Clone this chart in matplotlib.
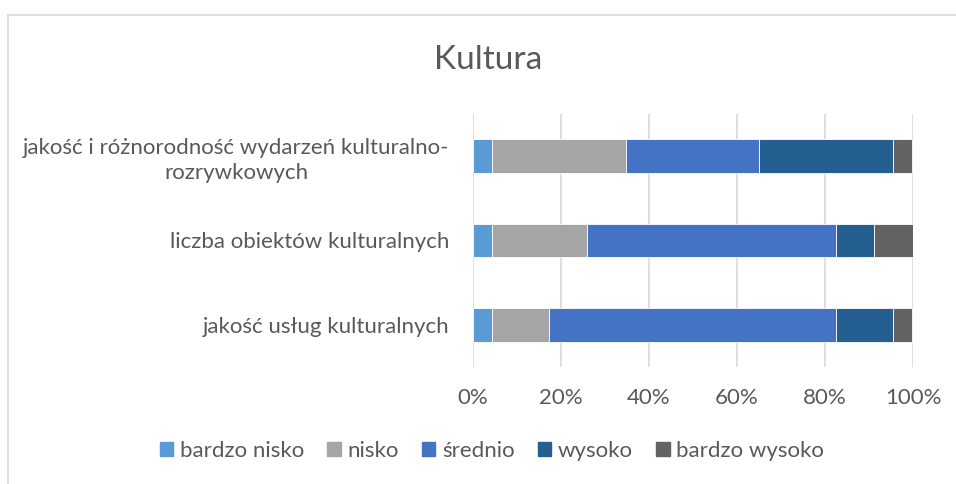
import numpy as np
import matplotlib
matplotlib.use("Agg")
import matplotlib.pyplot as plt
from matplotlib.lines import Line2D

# Data (percent of answers)
categories = ["jakość usług kulturalnych",
              "liczba obiektów kulturalnych",
              "jakość i różnorodność wydarzeń kulturalno-\nrozrywkowych"]
series_names = ["bardzo nisko", "nisko", "średnio", "wysoko", "bardzo wysoko"]
bardzo_nisko = [4.3, 4.3, 4.3]
nisko = [13.0, 21.7, 30.4]
srednio = [65.2, 56.5, 30.4]
wysoko = [13.0, 8.7, 30.4]
bardzo_wysoko = [4.3, 8.7, 4.3]
colors = ["#5B9BD5", "#A5A5A5", "#4472C4", "#255E91", "#636363"]
ticks = [0, 20, 40, 60, 80, 100]

plt.rcParams['font.family'] = ['Lato', 'DejaVu Sans']
txt = "#595959"

fig = plt.figure(figsize=(9.56, 4.84), dpi=100)
ax = fig.add_axes([473/956, 1-367/484, 440/956, 253/484])

data = [bardzo_nisko, nisko, srednio, wysoko, bardzo_wysoko]
y = np.arange(len(categories))
left = np.zeros(len(categories))
for vals, name, c in zip(data, series_names, colors):
    vals = np.array(vals)
    ax.barh(y, vals, left=left, height=0.4, color=c, label=name,
            edgecolor="white", linewidth=0.6, zorder=3)
    left = left + vals

ax.set_xlim(0, 100)
ax.set_ylim(-0.5, 2.5)
ax.set_xticks(ticks)
ax.set_xticklabels([f"{t}%" for t in ticks])
ax.set_yticks(y)
ax.set_yticklabels(categories, multialignment="center", linespacing=1.3)
ax.tick_params(length=0, labelsize=16, labelcolor=txt)
ax.tick_params(axis="x", pad=15)
ax.tick_params(axis="y", pad=17)
ax.grid(axis="x", color="#D9D9D9", linewidth=1.2, zorder=0)
for s in ax.spines.values():
    s.set_visible(False)

fig.text(488/956, 1-60/484, "Kultura", ha="center", va="center",
         fontsize=24, color=txt)

handles = [plt.Rectangle((0, 0), 1, 1, color=c) for c in colors]
fig.legend(handles, series_names, loc="center", bbox_to_anchor=(492/956, 1-451/484),
           ncol=5, frameon=False, fontsize=16, labelcolor=txt,
           handlelength=0.6, handleheight=0.6, handletextpad=0.3, columnspacing=1.05)

# chart frame
fig.add_artist(Line2D([8/956, 8/956], [0, 1-15/484], transform=fig.transFigure,
                      color="#D9D9D9", linewidth=1.2))
fig.add_artist(Line2D([8/956, 1], [1-15/484, 1-15/484], transform=fig.transFigure,
                      color="#D9D9D9", linewidth=1.2))

fig.savefig("out.png", dpi=100)
